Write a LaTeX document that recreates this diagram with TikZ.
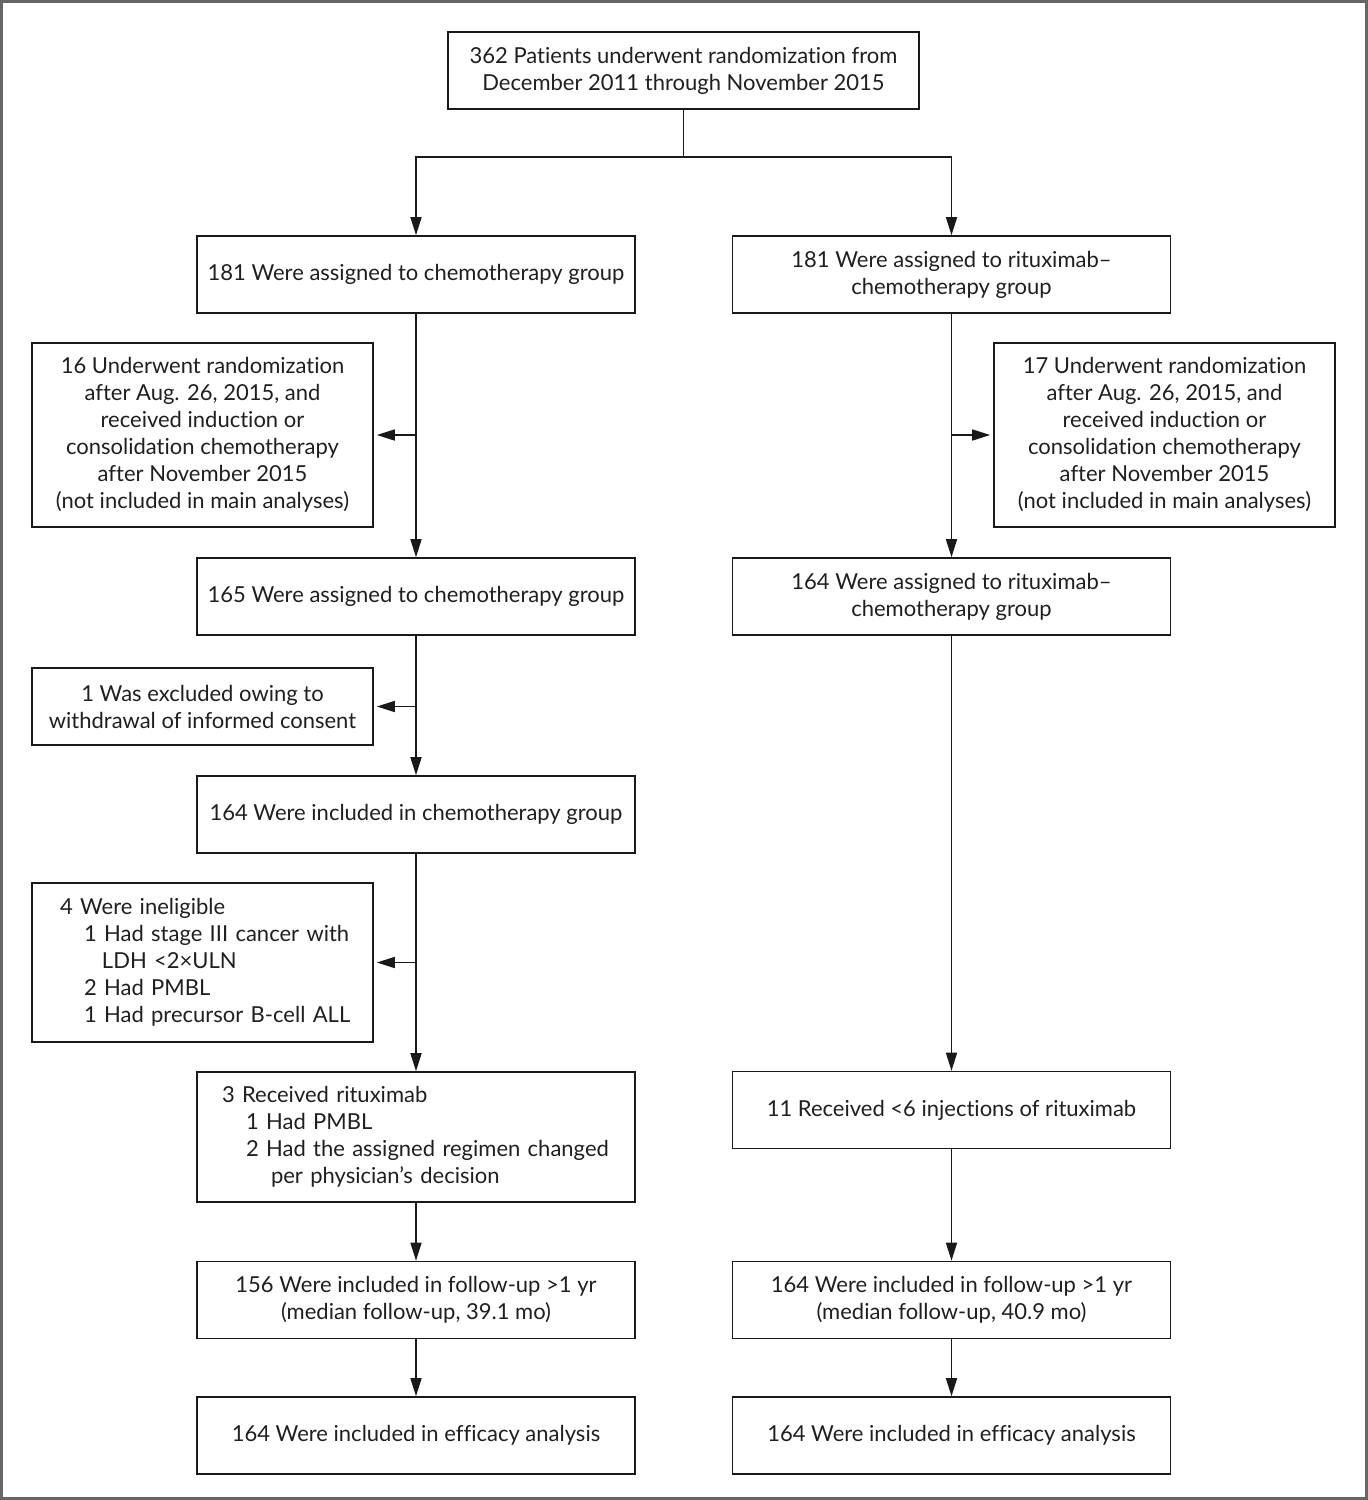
\documentclass[tikz,border=0pt]{standalone}
\usepackage{fontspec}
\setmainfont[Ligatures=NoCommon]{Lato}
\usetikzlibrary{arrows.meta}
\begin{document}
\begin{tikzpicture}[x=1pt,y=-1pt,
  box/.style={draw=black!90, line width=1.6pt, align=center, inner sep=0pt, text=black!88,
    font=\fontsize{22}{27}\selectfont},
  colbox/.style={box, minimum width=438, minimum height=77},
  sidebox/.style={box, minimum width=341},
  arr/.style={line width=1.6pt, draw=black!90, -{Triangle[length=18pt,width=11pt]}},
  ln/.style={line width=1.6pt, draw=black!90}]
\useasboundingbox (0,0) rectangle (1368,1500);
\draw[line width=3pt, draw=black!60] (1.5,1.5) rectangle (1366.5,1498.5);

\node[box, minimum width=471, minimum height=77] (top) at (683.5,70.5)
  {362 Patients underwent randomization from\\December 2011 through November 2015};

\node[colbox] (L1) at (416,274.5) {181 Were assigned to chemotherapy group};
\node[colbox] (R1) at (951.5,274.5) {181 Were assigned to rituximab–\\chemotherapy group};

\node[sidebox, minimum height=184] (S1) at (202.5,435)
  {16 Underwent randomization\\after Aug. 26, 2015, and\\received induction or\\consolidation chemotherapy\\after November 2015\\(not included in main analyses)};
\node[sidebox, minimum height=184] (RS1) at (1164.5,435)
  {17 Underwent randomization\\after Aug. 26, 2015, and\\received induction or\\consolidation chemotherapy\\after November 2015\\(not included in main analyses)};

\node[colbox] (L2) at (416,596.5) {165 Were assigned to chemotherapy group};
\node[colbox] (R2) at (951.5,596.5) {164 Were assigned to rituximab–\\chemotherapy group};

\node[sidebox, minimum height=77] (S2) at (202.5,706.5)
  {1 Was excluded owing to\\withdrawal of informed consent};

\node[colbox] (L3) at (416,814.5) {164 Were included in chemotherapy group};

\node[sidebox, minimum height=159, text width=325, inner xsep=8pt, align=left] (S3) at (202.5,962.5)
  {\hspace*{20pt}4 Were ineligible\\
   \hspace*{44pt}1 Had stage III cancer with\\
   \hspace*{62pt}LDH <2×ULN\\
   \hspace*{44pt}2 Had PMBL\\
   \hspace*{44pt}1 Had precursor B-cell ALL};

\node[colbox, minimum height=130, text width=422, inner xsep=8pt, align=left] (L4) at (416,1137)
  {\hspace*{17pt}3 Received rituximab\\
   \hspace*{41pt}1 Had PMBL\\
   \hspace*{41pt}2 Had the assigned regimen changed\\
   \hspace*{66pt}per physician’s decision};
\node[colbox] (R3) at (951.5,1110) {11 Received <6 injections of rituximab};

\node[colbox] (L5) at (416,1300) {156 Were included in follow-up >1 yr\\(median follow-up, 39.1 mo)};
\node[colbox] (R4) at (951.5,1300) {164 Were included in follow-up >1 yr\\(median follow-up, 40.9 mo)};

\node[colbox] (L6) at (416,1435.5) {164 Were included in efficacy analysis};
\node[colbox] (R5) at (951.5,1435.5) {164 Were included in efficacy analysis};

\coordinate (split) at (683.5,157);
\coordinate (b1) at (416,435);
\coordinate (rb1) at (951.5,435);
\coordinate (b2) at (416,706.5);
\coordinate (b3) at (416,962.5);

\draw[ln] (top) -- (split);
\draw[arr] (split) -| (L1);
\draw[arr] (split) -| (R1);

\draw[arr] (L1) -- (L2);
\draw[arr, shorten >=3pt] (b1) -- (S1);
\draw[arr] (R1) -- (R2);
\draw[arr, shorten >=3pt] (rb1) -- (RS1);

\draw[arr] (L2) -- (L3);
\draw[arr, shorten >=3pt] (b2) -- (S2);
\draw[arr] (L3) -- (L4);
\draw[arr, shorten >=3pt] (b3) -- (S3);
\draw[arr] (L4) -- (L5);
\draw[arr] (L5) -- (L6);

\draw[arr] (R2) -- (R3);
\draw[arr] (R3) -- (R4);
\draw[arr] (R4) -- (R5);
\end{tikzpicture}
\end{document}
